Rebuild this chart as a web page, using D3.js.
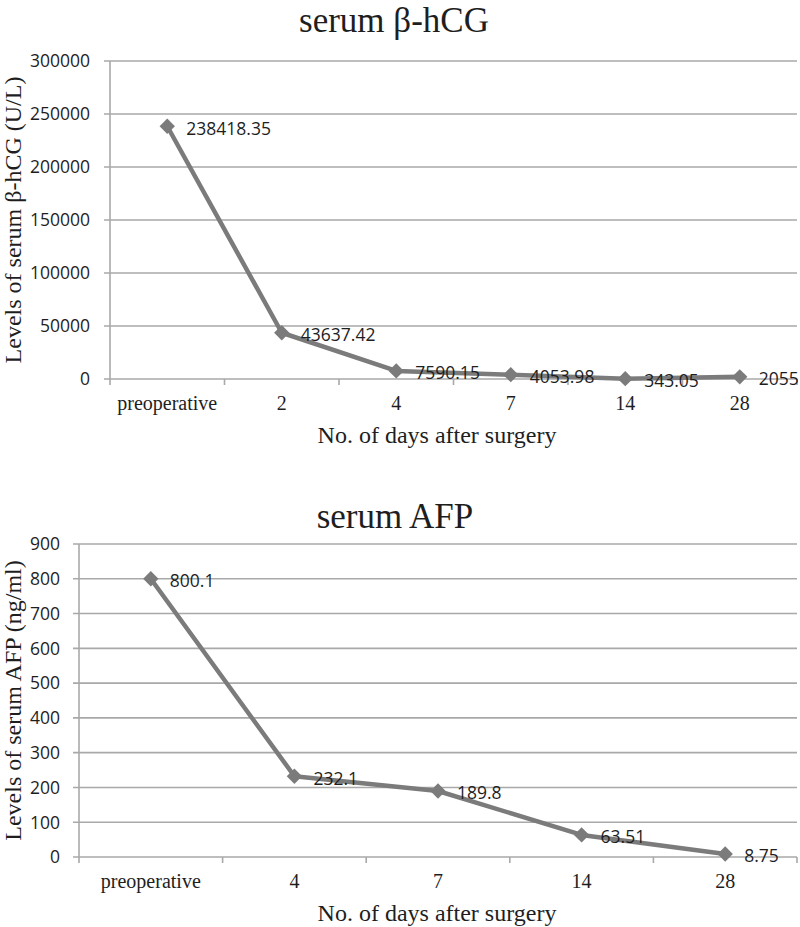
<!DOCTYPE html>
<html>
<head>
<meta charset="utf-8">
<script src="https://cdn.jsdelivr.net/npm/d3@7/dist/d3.min.js"></script>
<style>
  html, body { margin: 0; padding: 0; background: #fff; }
  svg { display: block; }
</style>
</head>
<body>
<svg id="chart" width="800" height="927"></svg>
<script>
// ---------- data ----------
const hcgCategories = ["preoperative", "2", "4", "7", "14", "28"];
const hcgValues = [238418.35, 43637.42, 7590.15, 4053.98, 343.05, 2055];
const hcgLabels = ["238418.35", "43637.42", "7590.15", "4053.98", "343.05", "2055"];
const hcgTicks = [0, 50000, 100000, 150000, 200000, 250000, 300000];

const afpCategories = ["preoperative", "4", "7", "14", "28"];
const afpValues = [800.1, 232.1, 189.8, 63.51, 8.75];
const afpLabels = ["800.1", "232.1", "189.8", "63.51", "8.75"];
const afpTicks = [0, 100, 200, 300, 400, 500, 600, 700, 800, 900];

const svg = d3.select("#chart");
const SERIF = "'Liberation Serif', 'Times New Roman', serif";
const SANS = "'Open Sans', 'Liberation Sans', sans-serif";
const GRID = "#a9a9a9";
const LINE = "#7b7b7b";
const TEXT = "#1e1e1e";

function drawChart(o) {
  const g = svg.append("g");
  const x = d3.scaleBand().domain(o.categories).range([o.left, o.right]);
  const y = d3.scaleLinear().domain([0, d3.max(o.ticks)]).range([o.bottom, o.top]);

  // gridlines
  g.append("g").selectAll("line").data(o.ticks).join("line")
    .attr("x1", o.left - 6).attr("x2", o.right)
    .attr("y1", d => y(d)).attr("y2", d => y(d))
    .attr("stroke", GRID).attr("stroke-width", 1.6);

  // y axis line
  g.append("line").attr("x1", o.left).attr("x2", o.left)
    .attr("y1", o.top).attr("y2", o.bottom + 6)
    .attr("stroke", GRID).attr("stroke-width", 1.6);

  // x axis ticks (band boundaries)
  const bounds = o.categories.map(c => x(c)).concat([o.right]);
  g.append("g").selectAll("line").data(bounds.slice(1)).join("line")
    .attr("x1", d => d).attr("x2", d => d)
    .attr("y1", o.bottom).attr("y2", o.bottom + 6)
    .attr("stroke", GRID).attr("stroke-width", 1.6);

  // y tick labels
  g.append("g").selectAll("text").data(o.ticks).join("text")
    .attr("x", o.yLabelX).attr("y", d => y(d))
    .attr("dy", "0.36em")
    .attr("text-anchor", "end")
    .attr("font-family", SANS).attr("font-size", 17.5)
    .attr("fill", TEXT)
    .text(d => d);

  // x tick labels
  g.append("g").selectAll("text").data(o.categories).join("text")
    .attr("x", d => x(d) + x.bandwidth() / 2).attr("y", o.xLabelY)
    .attr("text-anchor", "middle")
    .attr("font-family", SERIF).attr("font-size", 20)
    .attr("fill", TEXT)
    .text(d => d);

  // line
  const pts = o.categories.map((c, i) => [x(c) + x.bandwidth() / 2, y(o.values[i])]);
  g.append("path")
    .attr("d", d3.line()(pts))
    .attr("fill", "none").attr("stroke", LINE)
    .attr("stroke-width", 4.5).attr("stroke-linejoin", "round");

  // markers (diamonds)
  g.append("g").selectAll("path").data(pts).join("path")
    .attr("d", d3.symbol().type(d3.symbolDiamond2).size(150))
    .attr("transform", d => `translate(${d[0]},${d[1]})`)
    .attr("fill", LINE);

  // data labels
  g.append("g").selectAll("text").data(pts).join("text")
    .attr("x", d => d[0] + 19).attr("y", d => d[1] + 2)
    .attr("dy", "0.36em")
    .attr("font-family", SANS).attr("font-size", 17.5)
    .attr("fill", TEXT)
    .text((d, i) => o.labels[i]);

  // title
  g.append("text")
    .attr("x", o.titleX).attr("y", o.titleY)
    .attr("text-anchor", "middle")
    .attr("font-family", SERIF).attr("font-size", 35)
    .attr("fill", TEXT)
    .text(o.title);

  // x axis title
  g.append("text")
    .attr("x", 437).attr("y", o.xTitleY)
    .attr("text-anchor", "middle")
    .attr("font-family", SERIF).attr("font-size", 24)
    .attr("fill", TEXT)
    .text("No. of days after surgery");

  // y axis title
  g.append("text")
    .attr("transform", `translate(21,${(o.top + o.bottom) / 2}) rotate(-90)`)
    .attr("text-anchor", "middle")
    .attr("font-family", SERIF).attr("font-size", 24)
    .attr("fill", TEXT)
    .text(o.yTitle);
}

drawChart({
  categories: hcgCategories, values: hcgValues, labels: hcgLabels, ticks: hcgTicks,
  left: 110, right: 797, top: 61, bottom: 379,
  yLabelX: 90, xLabelY: 410, xTitleY: 443,
  title: "serum β-hCG", titleX: 394, titleY: 32,
  yTitle: "Levels of serum β-hCG (U/L)"
});

drawChart({
  categories: afpCategories, values: afpValues, labels: afpLabels, ticks: afpTicks,
  left: 79, right: 797, top: 544, bottom: 857,
  yLabelX: 60, xLabelY: 888, xTitleY: 921,
  title: "serum AFP", titleX: 395, titleY: 528,
  yTitle: "Levels of serum AFP (ng/ml)"
});
</script>
</body>
</html>
